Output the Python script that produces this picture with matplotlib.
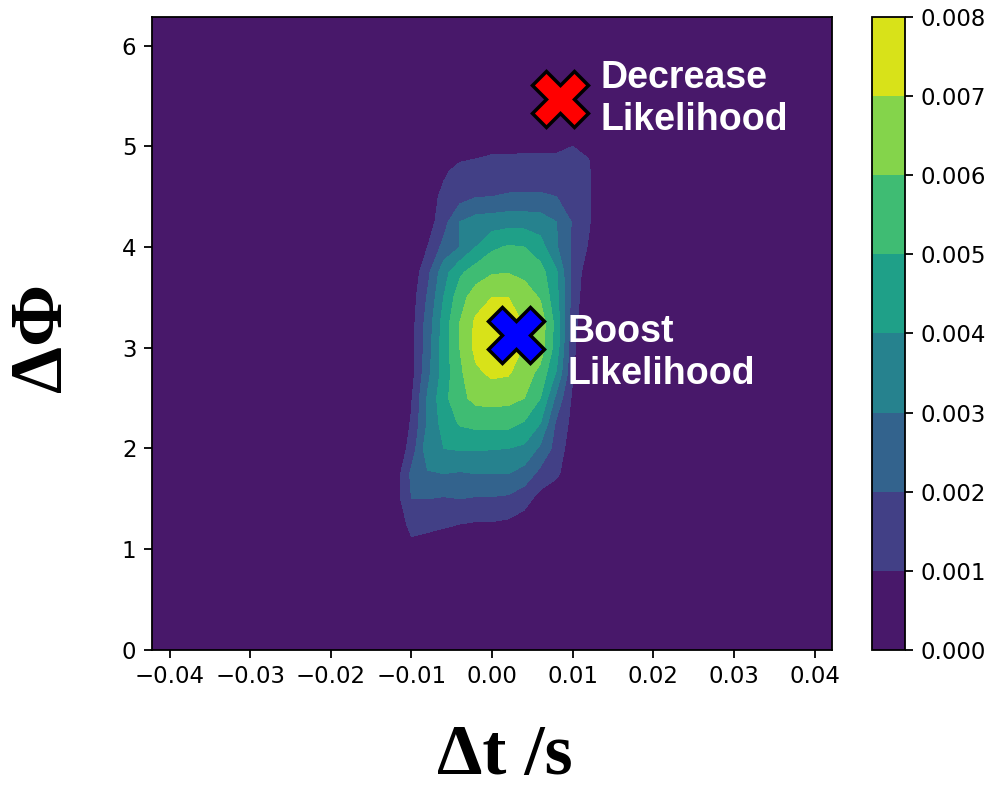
import numpy as np
import matplotlib.pyplot as plt

# grid nodes of the density table
dt_nodes = [-0.012, -0.010, -0.008, -0.006, -0.004, -0.002, 0.0,
            0.002, 0.004, 0.006, 0.008, 0.010, 0.012]
dphi_nodes = [1.0, 1.25, 1.5, 1.75, 2.0, 2.25, 2.5, 2.75, 3.0,
              3.25, 3.5, 3.75, 4.0, 4.25, 4.5, 4.75, 5.0]

# density in units of 1e-3, one row per dphi node (bottom to top)
density_milli = [
    [0.0, 0.7, 0.6, 0.5, 0.4, 0.3, 0.3, 0.2, 0.1, 0.0, 0.0, 0.0, 0.0],
    [0.3, 1.3, 1.2, 1.1, 1.0, 0.9, 0.9, 0.8, 0.5, 0.1, 0.0, 0.0, 0.0],
    [0.5, 2.0, 2.0, 1.9, 2.0, 1.9, 1.9, 1.8, 1.4, 0.6, 0.2, 0.0, 0.0],
    [0.4, 2.2, 2.9, 3.0, 2.9, 3.0, 3.0, 3.0, 2.6, 1.7, 1.2, 0.2, 0.0],
    [0.1, 1.4, 3.6, 4.0, 4.1, 4.1, 4.05, 4.0, 3.8, 2.8, 1.6, 0.4, 0.0],
    [0.0, 1.1, 3.1, 4.4, 5.1, 5.3, 5.3, 5.3, 4.9, 4.0, 1.8, 0.7, 0.0],
    [0.0, 0.9, 3.1, 4.7, 5.7, 6.3, 6.35, 6.3, 6.0, 5.0, 2.7, 0.8, 0.0],
    [0.0, 0.6, 2.7, 4.4, 5.8, 6.8, 7.2, 7.1, 6.5, 5.7, 3.9, 1.1, 0.0],
    [0.0, 0.6, 2.5, 4.5, 6.0, 7.3, 7.8, 7.7, 6.9, 6.5, 4.5, 1.2, 0.0],
    [0.0, 0.6, 2.4, 4.4, 6.0, 7.2, 7.7, 7.7, 6.9, 6.6, 4.6, 1.4, 0.0],
    [0.0, 0.5, 2.1, 4.0, 5.6, 6.5, 7.0, 7.0, 6.6, 5.9, 4.3, 1.6, 0.2],
    [0.0, 0.3, 1.7, 3.6, 4.8, 5.5, 5.9, 5.95, 5.7, 5.4, 4.1, 1.7, 0.4],
    [0.0, 0.2, 1.0, 2.3, 3.0, 4.0, 4.8, 5.1, 5.0, 4.4, 3.1, 1.8, 0.9],
    [0.0, 0.0, 0.5, 1.6, 3.0, 3.4, 3.5, 3.6, 3.6, 3.5, 3.0, 1.9, 1.1],
    [0.0, 0.0, 0.4, 1.3, 1.6, 1.95, 2.0, 2.1, 2.1, 2.1, 2.0, 1.6, 1.1],
    [0.0, 0.0, 0.0, 0.8, 1.4, 1.4, 1.4, 1.4, 1.5, 1.5, 1.5, 1.4, 1.1],
    [0.0, 0.0, 0.0, 0.0, 0.3, 0.6, 0.8, 0.8, 0.8, 0.8, 0.8, 1.0, 0.9],
]

levels = [0.0, 0.001, 0.002, 0.003, 0.004, 0.005, 0.006, 0.007, 0.008]

# marked points
decrease_pt = (0.0084, 5.47)
boost_pt = (0.0030, 3.13)

xlim = (-0.0422, 0.0422)
ylim = (0.0, 2 * np.pi)

# pad the table with zeros out to the axes limits
x = np.concatenate([[xlim[0], -0.014], dt_nodes, [0.014, xlim[1]]])
y = np.concatenate([[ylim[0], 0.75], dphi_nodes, [5.25, ylim[1]]])
z = np.pad(np.array(density_milli) * 1e-3, 2)

fig = plt.figure(figsize=(9.92, 7.94), dpi=100)
ax = fig.add_axes([0.153, 0.1814, 0.686, 0.7972])
cax = fig.add_axes([0.879, 0.1814, 0.0333, 0.7972])

cs = ax.contourf(x, y, z, levels=levels, cmap='viridis')
ax.set_xlim(xlim)
ax.set_ylim(ylim)
ax.set_xticks([-0.04, -0.03, -0.02, -0.01, 0.0, 0.01, 0.02, 0.03, 0.04])
ax.set_yticks([0, 1, 2, 3, 4, 5, 6])

cb = fig.colorbar(cs, cax=cax, format='%.3f')
cb.set_ticks(levels)

for a in (ax, cax):
    a.tick_params(labelsize=16.5, length=6, width=1.3, pad=5)
    for s in a.spines.values():
        s.set_linewidth(1.3)
cb.outline.set_linewidth(1.3)

# markers
ax.plot(*decrease_pt, marker='X', markersize=40, color='red',
        markeredgecolor='black', markeredgewidth=2.5)
ax.plot(*boost_pt, marker='X', markersize=40, color='blue',
        markeredgecolor='black', markeredgewidth=2.5)

ax.text(0.0134, 5.47, 'Decrease\nLikelihood', color='white', fontsize=27,
        fontweight='bold', family='Liberation Sans', ha='left', va='center',
        linespacing=1.2)
ax.text(0.0094, 2.95, 'Boost\nLikelihood', color='white', fontsize=27,
        fontweight='bold', family='Liberation Sans', ha='left', va='center',
        linespacing=1.2)

ax.set_xlabel('Δt /s', fontsize=52, fontweight='bold',
              family='Liberation Serif', va='center')
ax.xaxis.set_label_coords(0.519, -0.168)
ax.set_ylabel('ΔΦ', fontsize=54, fontweight='bold',
              family='Liberation Serif', va='center')
ax.yaxis.set_label_coords(-0.16, 0.494)

plt.savefig('out.png', dpi=100)
